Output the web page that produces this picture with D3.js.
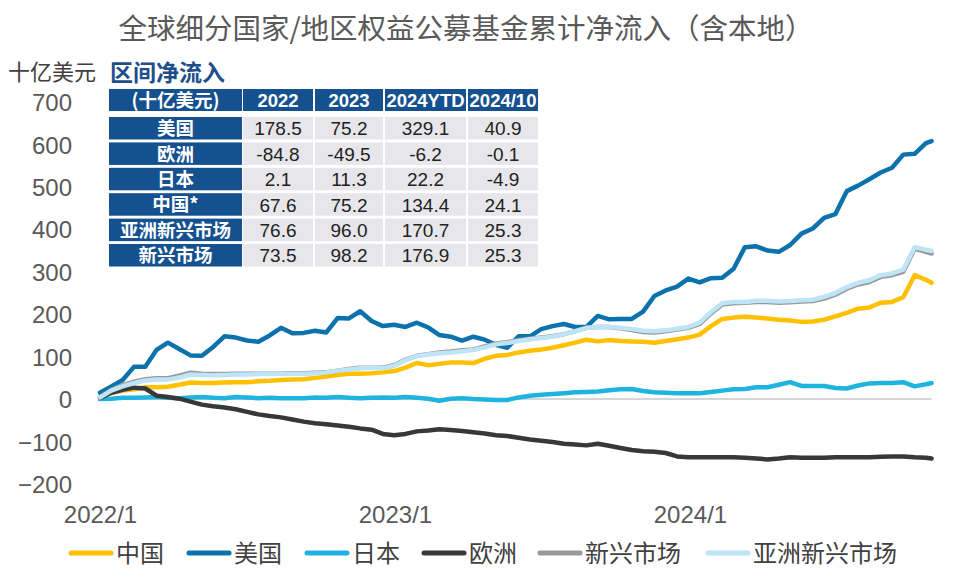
<!DOCTYPE html>
<html><head><meta charset="utf-8">
<script src="https://cdn.jsdelivr.net/npm/d3@7"></script>
<style>
html,body{margin:0;padding:0;background:#fff;}
svg{display:block;}
</style></head>
<body><svg id="chart" width="962" height="584"></svg>
<script>
const dates = ["2022-01-01","2022-01-15","2022-01-29","2022-02-12","2022-02-26","2022-03-12","2022-03-26","2022-04-09","2022-04-23","2022-05-07","2022-05-21","2022-06-04","2022-06-18","2022-07-02","2022-07-16","2022-07-30","2022-08-13","2022-08-27","2022-09-10","2022-09-24","2022-10-08","2022-10-22","2022-11-05","2022-11-19","2022-12-03","2022-12-17","2022-12-31","2023-01-14","2023-01-28","2023-02-11","2023-02-25","2023-03-11","2023-03-25","2023-04-08","2023-04-22","2023-05-06","2023-05-20","2023-06-03","2023-06-17","2023-07-01","2023-07-15","2023-07-29","2023-08-12","2023-08-26","2023-09-09","2023-09-23","2023-10-07","2023-10-21","2023-11-04","2023-11-18","2023-12-02","2023-12-16","2023-12-30","2024-01-13","2024-01-27","2024-02-10","2024-02-24","2024-03-09","2024-03-23","2024-04-06","2024-04-20","2024-05-04","2024-05-18","2024-06-01","2024-06-15","2024-06-29","2024-07-13","2024-07-27","2024-08-10","2024-08-24","2024-09-07","2024-09-21","2024-10-05","2024-10-19","2024-10-26"];

const china = [4,14,20,23,28,28,29,34,39,38,38,39,40,40,42,43,45,46,47,50,53,57,60,60,61,63,66,74,85,80,83,86,86,85,95,102,104,110,114,117,121,127,133,140,136,139,137,136,135,133,137,141,145,152,172,189,192,194,192,190,187,185,182,183,187,195,203,213,216,227,229,240,292,281,274];
const usa = [15,30,45,76,76,116,133,118,103,102,123,148,145,138,135,150,168,155,156,161,157,191,190,207,184,172,175,170,180,169,151,147,138,147,140,128,121,148,148,165,172,177,170,170,196,188,189,189,206,243,256,265,284,275,285,286,307,358,360,350,347,363,390,402,427,436,490,503,518,534,545,576,578,603,608];
const japan = [0,1,3,3,4,5,3,2,4,5,3,2,5,4,2,3,2,2,2,4,3,5,3,2,3,4,3,5,3,1,-4,1,2,0,-1,-2,-2,4,8,10,12,14,16,17,18,21,23,24,19,16,15,14,14,14,17,20,23,24,28,28,34,40,31,31,31,26,25,32,37,38,38,40,30,35,38];
const europe = [3,15,22,27,25,8,5,1,-6,-13,-17,-20,-24,-30,-36,-40,-43,-48,-53,-57,-59,-62,-65,-69,-72,-82,-85,-82,-76,-74,-71,-73,-75,-78,-81,-85,-87,-91,-95,-98,-101,-105,-107,-109,-105,-110,-115,-120,-123,-124,-127,-135,-137,-137,-137,-137,-137,-138,-140,-142,-140,-137,-138,-138,-138,-137,-137,-137,-137,-136,-135,-135,-137,-138,-140];
const emerging = [4,22,33,41,47,49,49,55,62,60,59,59,60,60,60,60,60,61,61,62,63,67,71,74,74,74,80,93,102,106,110,112,115,117,124,131,134,139,142,145,148,153,160,168,170,170,167,163,158,157,160,164,168,177,202,223,226,227,229,229,227,228,230,231,237,246,260,270,276,288,292,300,354,347,343];
const asiaEmerging = [4,20,30,38,44,46,46,51,58,57,56,57,58,58,59,59,59,60,60,61,63,67,70,73,74,73,78,92,101,105,108,110,113,116,122,129,132,137,141,144,147,153,160,168,170,170,168,165,161,160,162,166,170,180,205,226,229,229,232,232,230,231,233,234,241,250,264,274,280,292,296,305,358,352,349];

const seriesNames = ["中国","美国","日本","欧洲","新兴市场","亚洲新兴市场"];
const seriesColors = ["#FFC000","#0B72AC","#1FB4E0","#383838","#999999","#BEE4F7"];
const seriesValues = [china, usa, japan, europe, emerging, asiaEmerging];

const yTicks = [700,600,500,400,300,200,100,0,-100,-200];
const xTickDates = ["2022-01-01","2023-01-01","2024-01-01"];
const xTickLabels = ["2022/1","2023/1","2024/1"];

const tableHeader = ["(十亿美元)","2022","2023","2024YTD","2024/10"];
const tableRegions = ["美国","欧洲","日本","中国*","亚洲新兴市场","新兴市场"];
const table2022 = ["178.5","-84.8","2.1","67.6","76.6","73.5"];
const table2023 = ["75.2","-49.5","11.3","75.2","96.0","98.2"];
const table2024YTD = ["329.1","-6.2","22.2","134.4","170.7","176.9"];
const table202410 = ["40.9","-0.1","-4.9","24.1","25.3","25.3"];

const titleText = "全球细分国家/地区权益公募基金累计净流入（含本地）";
const unitText = "十亿美元";
const tableTitle = "区间净流入";

const parse = d3.timeParse("%Y-%m-%d");
const svg = d3.select("#chart");
const latin = "'Liberation Sans', Arial, 'Noto Sans CJK SC', sans-serif";
const cjk = "'Noto Sans CJK SC', 'Liberation Sans', sans-serif";

const x = d3.scaleTime().domain([parse("2022-01-01"), parse("2024-10-26")]).range([100, 931.6]);
const y = d3.scaleLinear().domain([-200, 700]).range([484, 102]);

// title
svg.append("text").attr("x", 466).attr("y", 39).attr("text-anchor", "middle")
  .attr("font-family", cjk).attr("font-size", 28.5).attr("fill", "#595959").text(titleText);

// unit
svg.append("text").attr("x", 8).attr("y", 80)
  .attr("font-family", cjk).attr("font-size", 22).attr("fill", "#404040").text(unitText);

// y axis labels
const yAxis = d3.axisLeft(y).tickValues(yTicks).tickSize(0).tickPadding(0).tickFormat(d3.format("d"));
const yg = svg.append("g").attr("transform", "translate(72,0)").call(yAxis);
yg.select(".domain").remove();
yg.selectAll("text").attr("font-family", latin).attr("font-size", 24).attr("fill", "#595959").attr("dy", "0.36em");

// x axis labels
const xAxis = d3.axisBottom(x).tickValues(xTickDates.map(parse)).tickSize(0).tickPadding(0)
  .tickFormat((d, i) => xTickLabels[i]);
const xg = svg.append("g").attr("transform", "translate(0,506)").call(xAxis);
xg.select(".domain").remove();
xg.selectAll("text").attr("font-family", latin).attr("font-size", 24).attr("fill", "#595959").attr("dy", "0.7em");

// zero line
svg.append("line").attr("x1", x(parse(dates[0]))).attr("x2", x(parse(dates[dates.length-1])))
  .attr("y1", y(0)).attr("y2", y(0)).attr("stroke", "#D6D6D6").attr("stroke-width", 2);

// lines
const line = d3.line().x((d, i) => x(parse(dates[i]))).y(d => y(d));
seriesValues.forEach((vals, k) => {
  svg.append("path").datum(vals).attr("d", line).attr("fill", "none")
    .attr("stroke", seriesColors[k]).attr("stroke-width", 4.5)
    .attr("stroke-linejoin", "round").attr("stroke-linecap", "round");
});

// table
svg.append("text").attr("x", 110).attr("y", 81)
  .attr("font-family", cjk).attr("font-size", 23).attr("font-weight", "bold").attr("fill", "#1F4E8C").text(tableTitle);

const colX = [109, 243, 315, 385, 468];
const colW = [133, 70, 68, 81, 70];
const headBg = "#15508F";
const cellBg = "#E7E7EB";
const tg = svg.append("g");
tableHeader.forEach((h, c) => {
  tg.append("rect").attr("x", colX[c]).attr("y", 89).attr("width", colW[c]).attr("height", 22).attr("fill", headBg);
  tg.append("text").attr("x", colX[c] + colW[c]/2).attr("y", 100).attr("dy", "0.36em").attr("text-anchor", "middle")
    .attr("font-family", c === 0 ? cjk : latin).attr("font-size", 18.5).attr("font-weight", "bold").attr("fill", "#fff").text(h);
});
const cols = [table2022, table2023, table2024YTD, table202410];
tableRegions.forEach((r, i) => {
  const ry = 117 + i * 25.4;
  tg.append("rect").attr("x", colX[0]).attr("y", ry).attr("width", colW[0]).attr("height", 22.5).attr("fill", headBg);
  tg.append("text").attr("x", colX[0] + colW[0]/2).attr("y", ry + 11.5).attr("dy", "0.36em").attr("text-anchor", "middle")
    .attr("font-family", cjk).attr("font-size", 18.5).attr("font-weight", "bold").attr("fill", "#fff").text(r);
  cols.forEach((col, c) => {
    tg.append("rect").attr("x", colX[c+1]).attr("y", ry).attr("width", colW[c+1]).attr("height", 22.5).attr("fill", cellBg);
    tg.append("text").attr("x", colX[c+1] + colW[c+1]/2).attr("y", ry + 11.5).attr("dy", "0.36em").attr("text-anchor", "middle")
      .attr("font-family", latin).attr("font-size", 19).attr("fill", "#222").text(col[i]);
  });
});

// legend
const legX = [69, 187, 305, 422, 538, 706];
const lg = svg.append("g");
seriesNames.forEach((n, k) => {
  lg.append("line").attr("x1", legX[k] + 2).attr("x2", legX[k] + 42).attr("y1", 553).attr("y2", 553)
    .attr("stroke", seriesColors[k]).attr("stroke-width", 5).attr("stroke-linecap", "round");
  lg.append("text").attr("x", legX[k] + 47).attr("y", 553).attr("dy", "0.36em")
    .attr("font-family", cjk).attr("font-size", 24).attr("fill", "#404040").text(n);
});
</script></body></html>
